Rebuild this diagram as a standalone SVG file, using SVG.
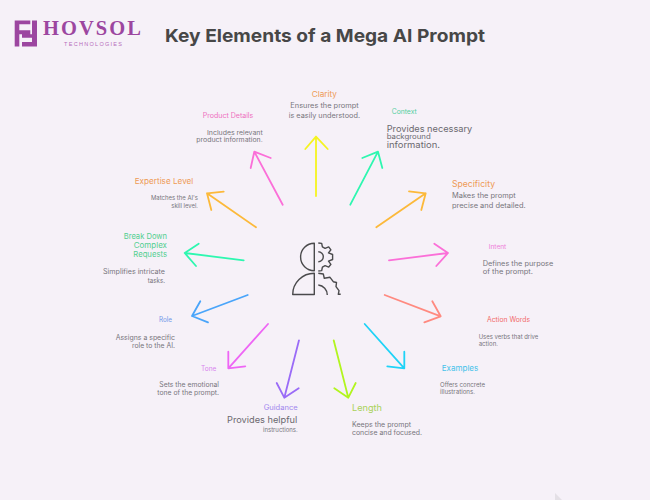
<svg xmlns="http://www.w3.org/2000/svg" width="650" height="500" viewBox="0 0 650 500">
<style>
text{font-family:"Inter","Noto Sans","Liberation Sans",sans-serif}
.d{font-size:7px;fill:#77757c}
.s{font-size:6px;fill:#77757c}
.b{font-size:9px;fill:#6b696f}
.a{fill:none;stroke-width:1.8;stroke-linecap:round;stroke-linejoin:round}
.i{fill:none;stroke:#4a4a4c;stroke-width:1.4;stroke-linejoin:round}
.brand{font-family:"Liberation Serif",serif;font-size:20.5px;font-weight:700;fill:#9c46a0}
.sub{font-family:"Liberation Sans",sans-serif;font-size:5.5px;fill:#b76cbb}
</style>
<rect width="650" height="500" fill="#f6f1f8"/>
<polygon points="555,500 555,493 562,500" fill="#e4e0e6"/>
<g id="logo">
<path fill="#9c46a0" d="M14.7 20.5H30.3V24.3H19.3V30.3H30.3V34.3H19.3V46.5H14.7Z M32 20.5H37V46.5H22V42H32V37.7H22V34.3H32Z"/>
<text class="brand" x="43" y="34.5" textLength="98">HOVSOL</text>
<text class="sub" x="64" y="46.3" textLength="58">TECHNOLOGIES</text>
</g>
<text id="title" x="165" y="42" font-size="18" font-weight="700" fill="#474747" textLength="320" lengthAdjust="spacingAndGlyphs">Key Elements of a Mega AI Prompt</text>
<g id="connectors">
<path class="a" stroke="#f5f41f" d="M316 196V136.7M305.3 149L316 136.7L327.7 149"/>
<path class="a" stroke="#2ef7b0" d="M350.3 204.7L378 151.7M362.3 158L378 151.7L382.3 168"/>
<path class="a" stroke="#fcb93a" d="M376.3 227.3L425.7 193.3M409 191.3L425.7 193.3L421.3 210"/>
<path class="a" stroke="#fb6fd8" d="M389 260.3L448 253M434.3 243.7L448 253L436.3 266"/>
<path class="a" stroke="#ff8a80" d="M384.7 295L440.7 316.3M432.3 301.3L440.7 316.3L424.3 322.3"/>
<path class="a" stroke="#1fd3f7" d="M364.7 324L404.3 368.3M404.3 351.7L404.3 368.3L387.3 366.3"/>
<path class="a" stroke="#b2f51f" d="M333.7 340.3L348.3 397.7M334.3 388.3L348.3 397.7L355.7 383"/>
<path class="a" stroke="#9a6bf7" d="M299 340.3L284.3 397.7M276.7 383L284.3 397.7L298.7 388.3"/>
<path class="a" stroke="#ee66f5" d="M268 324L228.3 368.3M228.3 351.7L228.3 368.3L245.3 366.3"/>
<path class="a" stroke="#4aa5fa" d="M247.7 295L192 316M200.3 301.3L192 316L208 322.3"/>
<path class="a" stroke="#2ef7b0" d="M243.7 260.3L184.7 253M198.7 243.7L184.7 253L196 266"/>
<path class="a" stroke="#fcb93a" d="M256 227.3L207 193.3M223.7 191.7L207 193.3L211.3 210"/>
<path class="a" stroke="#fb6fd8" d="M282.7 204.7L254.3 151.7M270.7 158L254.3 151.7L250.7 168"/>
</g>
<g id="center">
<path class="i" d="M314.3 243.3V270.7A13.7 13.7 0 0 1 314.3 243.3Z"/>
<path class="i" d="M314.3 273.3V294.5H292.7A21.6 21.2 0 0 1 314.3 273.3Z"/>
<path class="i" d="M318.3 243L321.7 243.4L322.4 246.8L325.1 248.3L328.7 246.9L330.9 249.8L328.5 252.9L332.6 254.5L332.6 259.5L328.5 261.1L330.9 264.3L328.7 267.1L325.1 265.7L322.4 267.2L321.7 270.6L318.3 271M318.3 251.7A5 5 0 0 1 318.3 261.7"/>
<path class="i" d="M318.3 273.3L323.3 274L324.3 278.3L330 277.3L333.3 281.7L336.5 282.5L336 286.7L339 290.7L338.3 294.3L340.7 294.3M318.3 285A10 10 0 0 1 327.3 295"/>
</g>
<g id="n-clarity"><text x="311.7" y="97" font-size="8" fill="#ee9a55" textLength="25.3" lengthAdjust="spacingAndGlyphs">Clarity</text><text class="d" x="290.3" y="108" textLength="68.4" lengthAdjust="spacingAndGlyphs">Ensures the prompt</text><text class="d" x="288.7" y="117.7" textLength="71.3" lengthAdjust="spacingAndGlyphs">is easily understood.</text></g>
<g id="n-context"><text x="391.7" y="114" font-size="7" fill="#52cfa0" textLength="25" lengthAdjust="spacingAndGlyphs">Context</text><text class="b" x="386.7" y="132" textLength="85.6" lengthAdjust="spacingAndGlyphs">Provides necessary</text><text x="386.7" y="138.7" font-size="7" fill="#6b696f" textLength="44" lengthAdjust="spacingAndGlyphs">background</text><text class="b" x="386.7" y="147.7" textLength="53.3" lengthAdjust="spacingAndGlyphs">information.</text></g>
<g id="n-specificity"><text x="452" y="186.7" font-size="9" fill="#ee9a55" textLength="43" lengthAdjust="spacingAndGlyphs">Specificity</text><text class="d" x="452" y="198" textLength="63.7" lengthAdjust="spacingAndGlyphs">Makes the prompt</text><text class="d" x="452" y="207.7" textLength="73.7" lengthAdjust="spacingAndGlyphs">precise and detailed.</text></g>
<g id="n-intent"><text x="488.7" y="249" font-size="6" fill="#ee80d8" textLength="17.6" lengthAdjust="spacingAndGlyphs">Intent</text><text class="d" x="482.7" y="266" textLength="70.6" lengthAdjust="spacingAndGlyphs">Defines the purpose</text><text class="d" x="482.7" y="274" textLength="50.3" lengthAdjust="spacingAndGlyphs">of the prompt.</text></g>
<g id="n-action"><text x="487" y="322" font-size="7" fill="#f26a6a" textLength="43" lengthAdjust="spacingAndGlyphs">Action Words</text><text class="s" x="478.7" y="338.7" textLength="59.6" lengthAdjust="spacingAndGlyphs">Uses verbs that drive</text><text class="s" x="478.7" y="345.7" textLength="19.3" lengthAdjust="spacingAndGlyphs">action.</text></g>
<g id="n-examples"><text x="441.7" y="371" font-size="8" fill="#45c2ea" textLength="36.6" lengthAdjust="spacingAndGlyphs">Examples</text><text class="s" x="440" y="386.7" textLength="45" lengthAdjust="spacingAndGlyphs">Offers concrete</text><text class="s" x="440" y="393.7" textLength="35" lengthAdjust="spacingAndGlyphs">illustrations.</text></g>
<g id="n-length"><text x="352" y="410.7" font-size="9" fill="#a9d15a" textLength="30" lengthAdjust="spacingAndGlyphs">Length</text><text class="d" x="352" y="427" textLength="59" lengthAdjust="spacingAndGlyphs">Keeps the prompt</text><text class="d" x="352" y="435" textLength="70" lengthAdjust="spacingAndGlyphs">concise and focused.</text></g>
<g id="n-guidance"><text x="263.7" y="410" font-size="7" fill="#a187ee" textLength="34" lengthAdjust="spacingAndGlyphs">Guidance</text><text class="b" x="227" y="422.7" textLength="70.3" lengthAdjust="spacingAndGlyphs">Provides helpful</text><text class="s" x="263" y="431.7" textLength="34.7" lengthAdjust="spacingAndGlyphs">instructions.</text></g>
<g id="n-tone"><text x="201" y="371" font-size="7" fill="#d884ee" textLength="15.3" lengthAdjust="spacingAndGlyphs">Tone</text><text class="d" x="159.3" y="387" textLength="59.7" lengthAdjust="spacingAndGlyphs">Sets the emotional</text><text class="d" x="157.3" y="395" textLength="61.7" lengthAdjust="spacingAndGlyphs">tone of the prompt.</text></g>
<g id="n-role"><text x="159" y="322" font-size="7" fill="#6f96e8" textLength="13" lengthAdjust="spacingAndGlyphs">Role</text><text class="d" x="115.7" y="340" textLength="59.3" lengthAdjust="spacingAndGlyphs">Assigns a specific</text><text class="d" x="132" y="348" textLength="43" lengthAdjust="spacingAndGlyphs">role to the AI.</text></g>
<g id="n-breakdown"><text x="123.7" y="239" font-size="8" fill="#52cf90" textLength="43.3" lengthAdjust="spacingAndGlyphs">Break Down</text><text x="133.7" y="248" font-size="8" fill="#52cf90" textLength="33.3" lengthAdjust="spacingAndGlyphs">Complex</text><text x="133.3" y="257.3" font-size="8" fill="#52cf90" textLength="33.7" lengthAdjust="spacingAndGlyphs">Requests</text><text class="d" x="103" y="274" textLength="62" lengthAdjust="spacingAndGlyphs">Simplifies intricate</text><text class="d" x="147.7" y="283" textLength="17.3" lengthAdjust="spacingAndGlyphs">tasks.</text></g>
<g id="n-expertise"><text x="134.7" y="184" font-size="8" fill="#ee9a55" textLength="58.6" lengthAdjust="spacingAndGlyphs">Expertise Level</text><text class="s" x="151" y="200" textLength="47" lengthAdjust="spacingAndGlyphs">Matches the AI's</text><text class="s" x="171.3" y="207.7" textLength="26.7" lengthAdjust="spacingAndGlyphs">skill level.</text></g>
<g id="n-product"><text x="202.7" y="118" font-size="7" fill="#ee70bf" textLength="50.6" lengthAdjust="spacingAndGlyphs">Product Details</text><text class="s" x="207" y="135" textLength="55.7" lengthAdjust="spacingAndGlyphs">Includes relevant</text><text class="s" x="196.3" y="142" textLength="66.4" lengthAdjust="spacingAndGlyphs">product information.</text></g>
</svg>
